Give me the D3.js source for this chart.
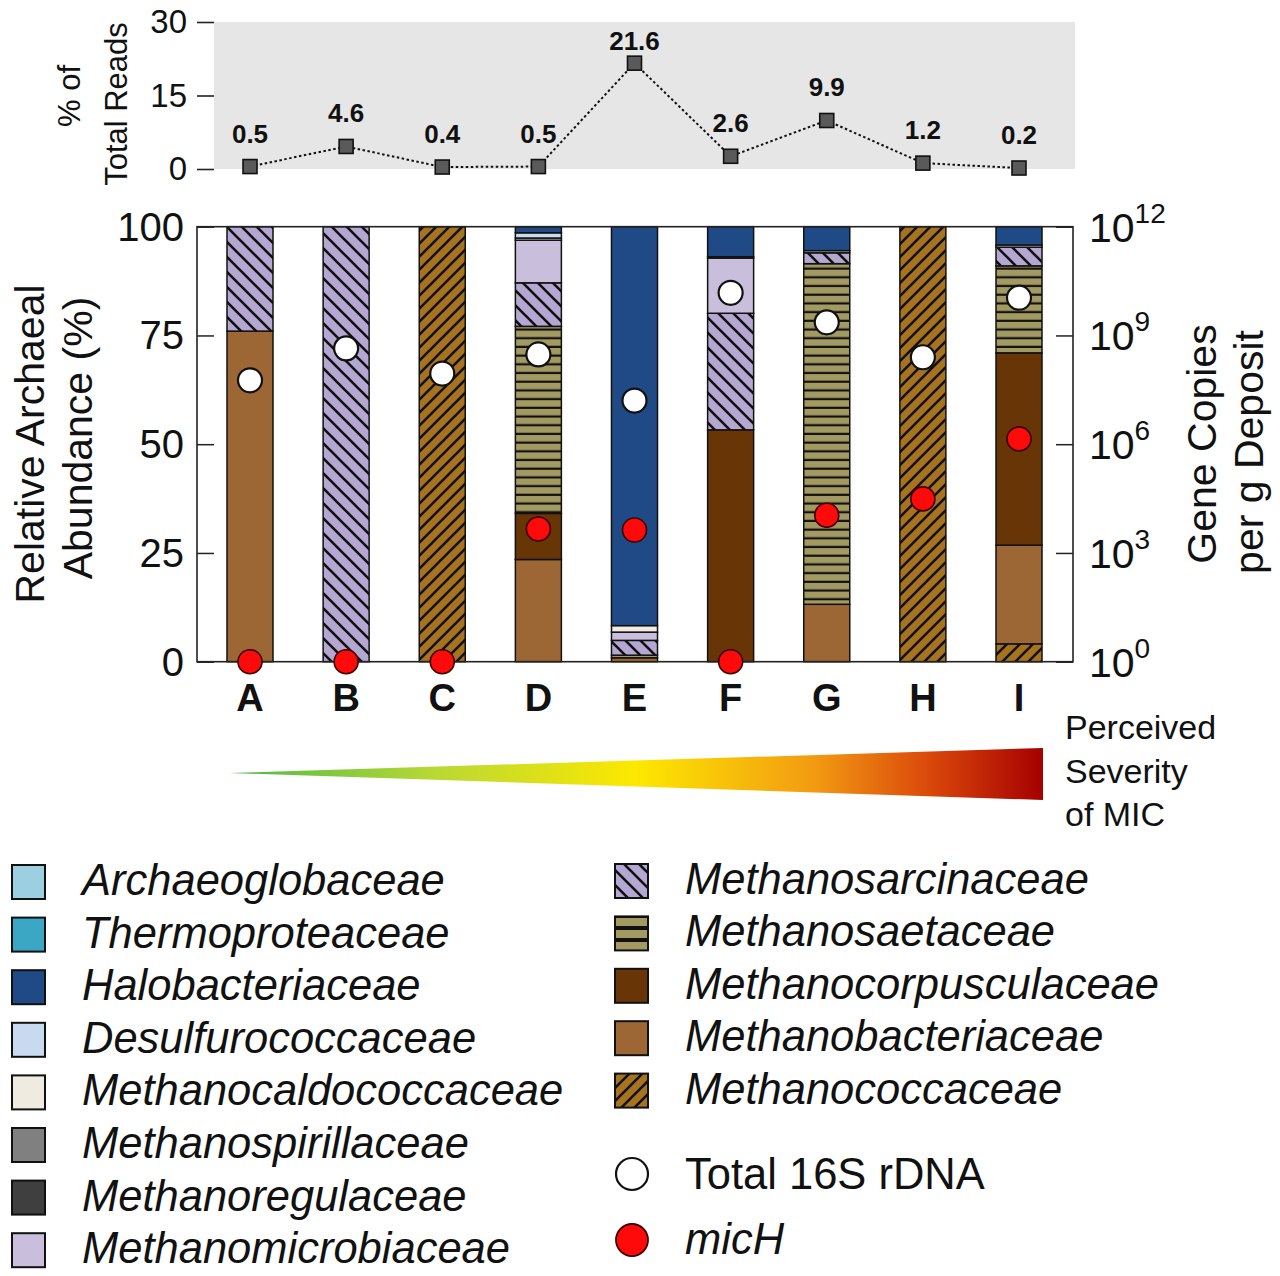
<!DOCTYPE html>
<html><head><meta charset="utf-8">
<script src="https://cdn.jsdelivr.net/npm/d3@7"></script>
<style>body{margin:0;background:#fff}svg{display:block}text{font-family:"Liberation Sans",Arial,sans-serif}</style>
</head><body>
<svg id="c" width="1280" height="1276"></svg>
<script>
// ---------- DATA ----------
const sites = ["A","B","C","D","E","F","G","H","I"];
const pctTotalReads = [0.5,4.6,0.4,0.5,21.6,2.6,9.9,1.2,0.2];
const readTicks = [0,15,30];
const abundanceTicks = [0,25,50,75,100];
const copyTicks = [1,1e3,1e6,1e9,1e12];
// stack order bottom -> top
const families = ["Methanococcaceae","Methanobacteriaceae","Methanocorpusculaceae","Methanosaetaceae","Methanosarcinaceae","Methanomicrobiaceae","Methanoregulaceae","Methanospirillaceae","Methanocaldococcaceae","Desulfurococcaceae","Halobacteriaceae","Thermoproteaceae","Archaeoglobaceae"];
const Methanococcaceae      = [0,0,100,0,0,0,0,100,4.1];
const Methanobacteriaceae   = [76,0,0,23.5,0.9,0,13.2,0,22.7];
const Methanocorpusculaceae = [0,0,0,10.6,0,53.3,0,0,44.2];
const Methanosaetaceae      = [0,0,0,43,0.6,0,78.3,0,20];
const Methanosarcinaceae    = [24,100,0,10,3.4,26.8,2.5,0,4.3];
const Methanomicrobiaceae   = [0,0,0,9.8,1.9,12.7,0,0,0];
const Methanoregulaceae     = [0,0,0,0,0,0,0,0,0];
const Methanospirillaceae   = [0,0,0,0,0,0,0,0,0];
const Methanocaldococcaceae = [0,0,0,0.5,1.5,0,0.5,0,0.5];
const Desulfurococcaceae    = [0,0,0,1.2,0,0.3,0,0,0];
const Halobacteriaceae      = [0,0,0,1.4,91.7,6.9,5.5,0,4.2];
const Thermoproteaceae      = [0,0,0,0,0,0,0,0,0];
const Archaeoglobaceae      = [0,0,0,0,0,0,0,0,0];
const total16S = [5.8e7,4.4e8,8.9e7,3.0e8,1.6e7,1.5e10,2.3e9,2.5e8,1.1e10];
const micH     = [1,1,1,4.6e3,4.3e3,1,1.1e4,3.1e4,1.4e6];
const legendLeft  = ["Archaeoglobaceae","Thermoproteaceae","Halobacteriaceae","Desulfurococcaceae","Methanocaldococcaceae","Methanospirillaceae","Methanoregulaceae","Methanomicrobiaceae"];
const legendRight = ["Methanosarcinaceae","Methanosaetaceae","Methanocorpusculaceae","Methanobacteriaceae","Methanococcaceae"];

const familyValues = {Methanococcaceae,Methanobacteriaceae,Methanocorpusculaceae,Methanosaetaceae,Methanosarcinaceae,Methanomicrobiaceae,Methanoregulaceae,Methanospirillaceae,Methanocaldococcaceae,Desulfurococcaceae,Halobacteriaceae,Thermoproteaceae,Archaeoglobaceae};

// ---------- STYLE ----------
const fills = {
  Archaeoglobaceae:"#9ccfe0", Thermoproteaceae:"#3ba7c5", Halobacteriaceae:"#1f4a86",
  Desulfurococcaceae:"#c8daf0", Methanocaldococcaceae:"#efebe0", Methanospirillaceae:"#808080",
  Methanoregulaceae:"#3f3f3f", Methanomicrobiaceae:"#c9bfdd", Methanosarcinaceae:"url(#pSarc)",
  Methanosaetaceae:"url(#pSaeta)", Methanocorpusculaceae:"#683507", Methanobacteriaceae:"#9c6734",
  Methanococcaceae:"url(#pCocc)"
};
const legendFills = Object.assign({}, fills, {Methanosaetaceae:"url(#pSaetaL)"});

const svg = d3.select("#c");
const defs = svg.append("defs");
// patterns
const p1 = defs.append("pattern").attr("id","pSarc").attr("patternUnits","userSpaceOnUse").attr("width",15).attr("height",15);
p1.append("rect").attr("width",15).attr("height",15).attr("fill","#b4a8d2");
p1.append("path").attr("d","M0,0L15,15M-7.5,7.5L7.5,22.5M7.5,-7.5L22.5,7.5").attr("stroke","#111").attr("stroke-width",2.6);
const p2 = defs.append("pattern").attr("id","pCocc").attr("patternUnits","userSpaceOnUse").attr("width",13).attr("height",13);
p2.append("rect").attr("width",13).attr("height",13).attr("fill","#a8731f");
p2.append("path").attr("d","M0,13L13,0M-6.5,6.5L6.5,-6.5M6.5,19.5L19.5,6.5").attr("stroke","#111").attr("stroke-width",2.6);
const p3 = defs.append("pattern").attr("id","pSaeta").attr("patternUnits","userSpaceOnUse").attr("width",10).attr("height",8.7);
p3.append("rect").attr("width",10).attr("height",8.7).attr("fill","#a39a62");
p3.append("rect").attr("y",6.5).attr("width",10).attr("height",2.2).attr("fill","#111");
const p4 = defs.append("pattern").attr("id","pSaetaL").attr("patternUnits","userSpaceOnUse").attr("width",10).attr("height",12).attr("y",918);
p4.append("rect").attr("width",10).attr("height",12).attr("fill","#a39a62");
p4.append("rect").attr("y",8).attr("width",10).attr("height",4).attr("fill","#111");
const grad = defs.append("linearGradient").attr("id","sev").attr("gradientUnits","userSpaceOnUse")
  .attr("x1",230).attr("x2",1043).attr("y1",0).attr("y2",0);
[[0,"#4db848"],[0.25,"#b8d834"],[0.5,"#fde800"],[0.72,"#f29a12"],[0.86,"#da480b"],[1,"#a50000"]]
  .forEach(([o,c])=>grad.append("stop").attr("offset",o).attr("stop-color",c));

// ---------- SCALES ----------
const x = d3.scalePoint().domain(sites).range([250,1019]);
const barW = 46;
const yTop = d3.scaleLinear().domain([0,30]).range([169,22]);
const y = d3.scaleLinear().domain([0,100]).range([661.7,226.7]);
const yLog = d3.scaleLog().domain([1,1e12]).range([661.7,226.7]);

// ---------- TOP PANEL ----------
svg.append("rect").attr("x",214).attr("y",yTop(30)).attr("width",1075-214).attr("height",yTop(0)-yTop(30)).attr("fill","#e6e6e6");
const gTopAx = svg.append("g").attr("transform","translate(214,0)")
  .call(d3.axisLeft(yTop).tickValues(readTicks).tickSize(17).tickPadding(10));
gTopAx.select(".domain").remove();
gTopAx.selectAll(".tick line").attr("stroke","#222").attr("stroke-width",1.6);
gTopAx.selectAll(".tick text").attr("font-size",33).attr("fill","#111");
const line = d3.line().x((d,i)=>x(sites[i])).y(d=>yTop(d));
svg.append("path").attr("d",line(pctTotalReads)).attr("fill","none").attr("stroke","#111").attr("stroke-width",2).attr("stroke-dasharray","2.5,2.5");
svg.selectAll(".sq").data(pctTotalReads).enter().append("rect")
  .attr("x",(d,i)=>x(sites[i])-7).attr("y",d=>yTop(d)-7).attr("width",14).attr("height",14)
  .attr("fill","#5a5a5a").attr("stroke","#111").attr("stroke-width",1.6);
svg.selectAll(".vl").data(pctTotalReads).enter().append("text")
  .attr("x",(d,i)=>x(sites[i])).attr("y",d=>Math.max(yTop(d)-24,50)).attr("text-anchor","middle")
  .attr("font-size",26).attr("font-weight","bold").attr("fill","#111").text(d=>d.toFixed(1));
svg.append("text").attr("transform","translate(80,96) rotate(-90)").attr("text-anchor","middle").attr("font-size",31).attr("fill","#111").text("% of");
svg.append("text").attr("transform","translate(127,104) rotate(-90)").attr("text-anchor","middle").attr("font-size",31).attr("fill","#111").text("Total Reads");

// ---------- MAIN BARS ----------
const stackData = sites.map((s,i)=>{const o={site:s}; families.forEach(f=>o[f]=familyValues[f][i]); return o;});
const series = d3.stack().keys(families)(stackData);
const gBars = svg.append("g");
series.forEach(ser=>{
  gBars.selectAll(null).data(ser.filter(d=>d[1]-d[0]>0)).enter().append("rect")
    .attr("x",d=>x(d.data.site)-barW/2).attr("width",barW)
    .attr("y",d=>y(d[1])).attr("height",d=>y(d[0])-y(d[1]))
    .attr("fill",fills[ser.key]).attr("stroke","#111").attr("stroke-width",1.5);
});

// frame & axes
const gL = svg.append("g").attr("transform","translate(197,0)")
  .call(d3.axisRight(y).tickValues(abundanceTicks).tickSize(17).tickFormat(""));
gL.select(".domain").remove();
gL.selectAll(".tick line").attr("stroke","#222").attr("stroke-width",1.5);
svg.selectAll(".ltl").data(abundanceTicks).enter().append("text")
  .attr("x",184).attr("y",d=>y(d)+14).attr("text-anchor","end").attr("font-size",40).attr("fill","#111").text(d=>d);
const gR = svg.append("g").attr("transform","translate(1073,0)")
  .call(d3.axisLeft(yLog).tickValues(copyTicks).tickSize(17).tickFormat(""));
gR.select(".domain").remove();
gR.selectAll(".tick line").attr("stroke","#222").attr("stroke-width",1.5);
copyTicks.forEach(v=>{
  const t = svg.append("text").attr("x",1089).attr("y",yLog(v)+15).attr("font-size",41).attr("fill","#111");
  t.append("tspan").text("10");
  t.append("tspan").attr("dy",-19).attr("font-size",28).text(String(Math.round(Math.log10(v))));
});
svg.append("rect").attr("x",197).attr("y",226.7).attr("width",1073-197).attr("height",661.7-226.7)
  .attr("fill","none").attr("stroke","#222").attr("stroke-width",1.6);

// x labels
svg.selectAll(".xl").data(sites).enter().append("text")
  .attr("x",d=>x(d)).attr("y",711).attr("text-anchor","middle").attr("font-size",38).attr("font-weight","bold").attr("fill","#111").text(d=>d);

// circles
svg.selectAll(".wc").data(total16S).enter().append("circle")
  .attr("cx",(d,i)=>x(sites[i])).attr("cy",d=>yLog(d)).attr("r",12)
  .attr("fill","#fff").attr("stroke","#111").attr("stroke-width",2.2);
svg.selectAll(".rc").data(micH).enter().append("circle")
  .attr("cx",(d,i)=>x(sites[i])).attr("cy",d=>yLog(d)).attr("r",12)
  .attr("fill","#ff0a0a").attr("stroke","#3a0000").attr("stroke-width",1.6);

// axis titles
svg.append("text").attr("transform","translate(44,444) rotate(-90)").attr("text-anchor","middle").attr("font-size",41).attr("fill","#111").text("Relative Archaeal");
svg.append("text").attr("transform","translate(92,438) rotate(-90)").attr("text-anchor","middle").attr("font-size",41).attr("fill","#111").text("Abundance (%)");
svg.append("text").attr("transform","translate(1216,444) rotate(-90)").attr("text-anchor","middle").attr("font-size",41).attr("fill","#111").text("Gene Copies");
svg.append("text").attr("transform","translate(1263,452) rotate(-90)").attr("text-anchor","middle").attr("font-size",41).attr("fill","#111").text("per g Deposit");

// severity wedge
svg.append("path").attr("d","M229,773L1043,748L1043,800Z").attr("fill","url(#sev)");
["Perceived","Severity","of MIC"].forEach((t,i)=>
  svg.append("text").attr("x",1065).attr("y",739+i*43.5).attr("font-size",34).attr("fill","#111").text(t));

// legend
const lg = svg.append("g");
legendLeft.forEach((f,i)=>{
  const yy = 865 + i*52.6;
  lg.append("rect").attr("x",12).attr("y",yy).attr("width",33).attr("height",34).attr("fill",legendFills[f]).attr("stroke","#111").attr("stroke-width",2);
  lg.append("text").attr("x",82).attr("y",yy+30).attr("font-size",43.5).attr("font-style","italic").attr("fill","#111").text(f);
});
legendRight.forEach((f,i)=>{
  const yy = 864 + i*52.4;
  lg.append("rect").attr("x",615).attr("y",yy).attr("width",33).attr("height",34).attr("fill",legendFills[f]).attr("stroke","#111").attr("stroke-width",2);
  lg.append("text").attr("x",685).attr("y",yy+30).attr("font-size",43.5).attr("font-style","italic").attr("fill","#111").text(f);
});
lg.append("circle").attr("cx",632).attr("cy",1174).attr("r",16).attr("fill","#fff").attr("stroke","#111").attr("stroke-width",2.2);
lg.append("text").attr("x",685).attr("y",1189).attr("font-size",43.5).attr("fill","#111").text("Total 16S rDNA");
lg.append("circle").attr("cx",632).attr("cy",1240).attr("r",16).attr("fill","#ff0a0a").attr("stroke","#3a0000").attr("stroke-width",1.8);
lg.append("text").attr("x",685).attr("y",1254).attr("font-size",43.5).attr("font-style","italic").attr("fill","#111").text("micH");
</script>
</body></html>
